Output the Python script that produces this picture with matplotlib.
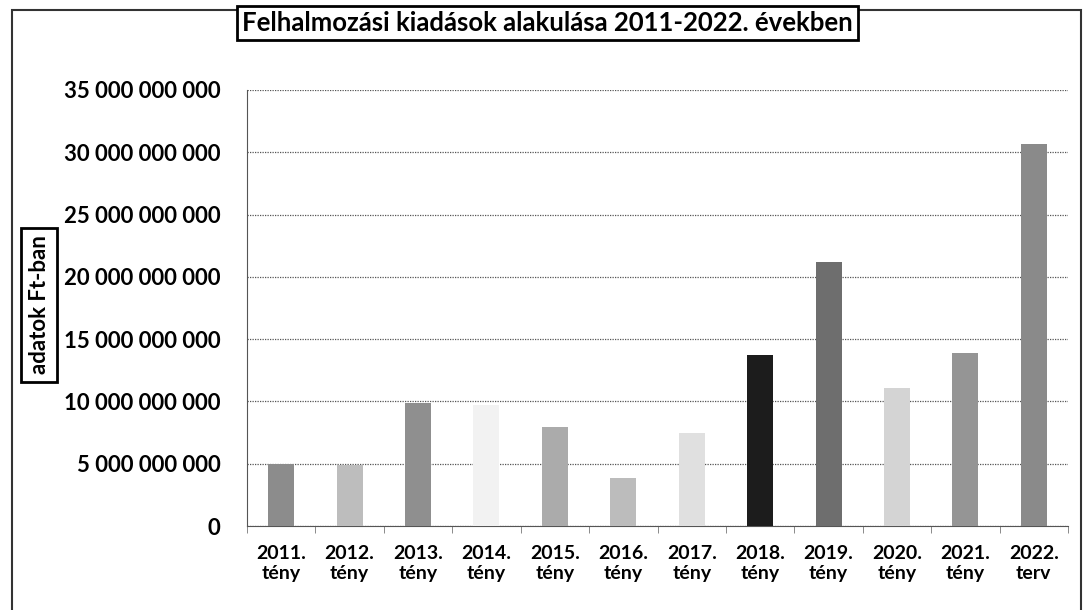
import matplotlib
matplotlib.use("Agg")
import matplotlib.pyplot as plt
import matplotlib.patches as patches
from matplotlib.ticker import FuncFormatter, MultipleLocator

years = ["2011.", "2012.", "2013.", "2014.", "2015.", "2016.", "2017.", "2018.", "2019.", "2020.", "2021.", "2022."]
kinds = ["tény"] * 11 + ["terv"]
values = [4.95e9, 4.9e9, 9.9e9, 9.7e9, 7.95e9, 3.85e9, 7.5e9, 13.7e9, 21.2e9, 11.1e9, 13.9e9, 30.7e9]
colors = ["#8c8c8c", "#bdbdbd", "#8f8f8f", "#f2f2f2", "#ababab", "#bcbcbc",
          "#e0e0e0", "#1c1c1c", "#6e6e6e", "#d4d4d4", "#959595", "#8a8a8a"]

plt.rcParams["font.family"] = ["Lato", "DejaVu Sans"]
plt.rcParams["font.weight"] = "bold"

fig = plt.figure(figsize=(10.84, 6.10), dpi=100)
ax = fig.add_axes([0.2279, 0.1377, 0.7573, 0.7148])

x = list(range(len(years)))
ax.bar(x, values, width=0.38, color=colors, zorder=3)

ax.set_xlim(-0.5, len(years) - 0.5)
ax.set_ylim(0, 35e9)
ax.yaxis.set_major_locator(MultipleLocator(5e9))
ax.yaxis.set_major_formatter(FuncFormatter(lambda v, p: f"{int(v):,}".replace(",", " ")))
ax.grid(axis="y", linestyle=(0, (1, 1)), color="#555555", linewidth=0.9, zorder=0)

ax.set_xticks(x)
ax.set_xticklabels([f"{y}\n{k}" for y, k in zip(years, kinds)], fontsize=14, fontweight="bold")
ax.set_xticks([i + 0.5 for i in range(-1, len(years))], minor=True)
ax.tick_params(axis="x", which="major", length=0, pad=14)
ax.tick_params(axis="x", which="minor", length=5, color="#777777")
ax.tick_params(axis="y", length=0, labelsize=16, pad=19)
for lab in ax.get_yticklabels():
    lab.set_fontweight("bold")

for side in ["top", "right"]:
    ax.spines[side].set_visible(False)
ax.spines["left"].set_linestyle((0, (1, 1)))
ax.spines["left"].set_color("#555555")
ax.spines["bottom"].set_linestyle((0, (1, 1)))
ax.spines["bottom"].set_color("#555555")

fig.text(0.505, 0.962, "Felhalmozási kiadások alakulása 2011-2022. években",
         ha="center", va="center", fontsize=18.5, fontweight="bold",
         bbox=dict(boxstyle="square,pad=0.2", facecolor="white", edgecolor="black", linewidth=2))

fig.text(0.036, 0.5, "adatok Ft-ban", rotation=90, ha="center", va="center",
         fontsize=16, fontweight="bold",
         bbox=dict(boxstyle="square,pad=0.35", facecolor="white", edgecolor="black", linewidth=2))

fig.patches.append(patches.Rectangle((0.011, -0.01), 0.986, 0.994, transform=fig.transFigure,
                                     fill=False, edgecolor="#333333", linewidth=1.5))

fig.savefig("out.png", dpi=100)
